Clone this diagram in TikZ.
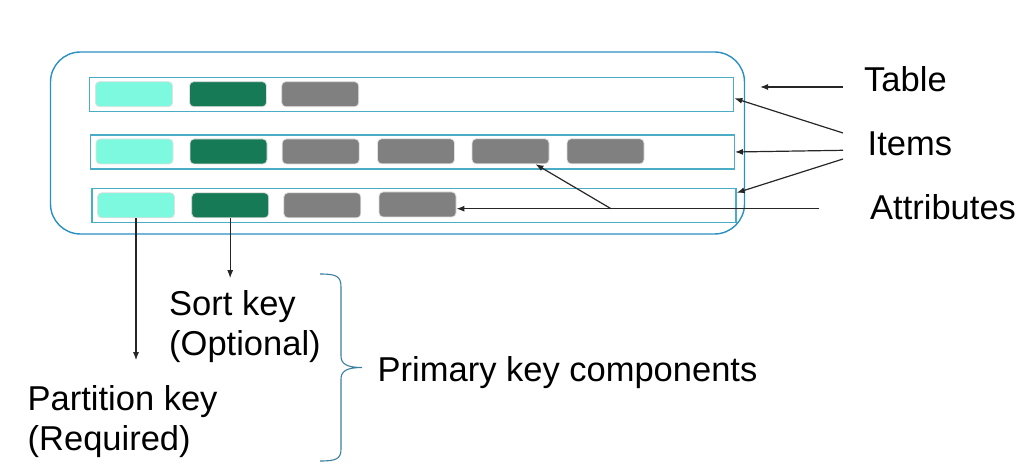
\documentclass[tikz,border=0pt]{standalone}
\usepackage{fontspec}
\setmainfont{Liberation Sans}
\usepackage{xcolor}
\usetikzlibrary{positioning, arrows.meta, calc}

\definecolor{pkcyan}{HTML}{7CF9DE}
\definecolor{skgreen}{HTML}{177A56}
\definecolor{attrgray}{HTML}{808080}
\definecolor{rowblue}{HTML}{4BACC6}
\definecolor{tblblue}{HTML}{2A8FC1}
\definecolor{braceblue}{HTML}{3A7FA0}

\begin{document}
\begin{tikzpicture}[x=1pt, y=-1pt,
		cell/.style={rectangle, rounded corners=4pt, draw=black!12, line width=0.8pt, minimum width=77pt, minimum height=25pt, inner sep=0pt},
		pk/.style={cell, fill=pkcyan},
		sk/.style={cell, fill=skgreen},
		attr/.style={cell, fill=attrgray},
		item/.style={rectangle, draw=rowblue, line width=1.4pt, minimum width=644pt, minimum height=34pt, inner sep=0pt},
		lbl/.style={inner sep=0pt, font=\fontsize{34.5}{40}\selectfont},
		arr/.style={-{Latex[length=8pt, width=6pt]}, line width=1.2pt, black!85}]
			\useasboundingbox (0,0) rectangle (1024,470);
			
			% table and items
			\node[rectangle, rounded corners=30pt, draw=tblblue, line width=1.4pt, minimum width=694pt, minimum height=182pt] (tbl) at (397.5,143) {};
			\node[item] (row1) at (411.7,94.7) {};
			\node[item] (row2) at (412.2,152) {};
			\node[item] (row3) at (413.9,205.5) {};
			
			% attributes
			\node[pk] (c11) at (134,94.2) {};
			\node[sk] (c12) at (228,94.2) {};
			\node[attr] (c13) at (320.2,94.2) {};
			
			\node[pk] (c21) at (134.5,151.5) {};
			\node[sk] (c22) at (228.5,151.5) {};
			\node[attr] (c23) at (320.7,151.5) {};
			\node[attr] (c24) at (416,151.3) {};
			\node[attr] (c25) at (510.5,151.3) {};
			\node[attr] (c26) at (605.5,151.3) {};
			
			\node[pk] (c31) at (136,205.3) {};
			\node[sk] (c32) at (230.2,205.3) {};
			\node[attr] (c33) at (322.3,205.3) {};
			\node[attr] (c34) at (417.5,204.5) {};
			
			% labels
			\node[lbl, anchor=base west] (tablelbl) at (864,91.5) {Table};
			\node[lbl, anchor=base west] (itemslbl) at (867.5,156) {Items};
			\node[lbl, anchor=base west] (attrlbl) at (870,219) {Attributes};
			\node[lbl, anchor=north west, align=left] (sortlbl) at (169,290) {Sort key\\(Optional)};
			\node[lbl, anchor=north west, align=left] (partlbl) at (27.5,385) {Partition key\\(Required)};
			\node[lbl, anchor=base west] (primlbl) at (377.5,381) {Primary key components};
			
			\coordinate (tablefrom) at (843,87);
			\coordinate (tableto) at (760,87);
			\coordinate (itemsfrom1) at (843,133);
			\coordinate (itemsfrom2) at (843,150.3);
			\coordinate (itemsfrom3) at (843,159);
			\coordinate (attrfrom) at (819,208.7);
			\coordinate (attrjoin) at (611,208.7);
			
			\draw[arr] (tablefrom) -- (tableto);
			\draw[arr] (itemsfrom1) -- ([yshift=-3.6pt]row1.east);
			\draw[arr] (itemsfrom2) -- (row2.east);
			\draw[arr] (itemsfrom3) -- ([yshift=-5pt]row3.north east);
			\draw[arr] (attrfrom) -- ([yshift=-4.2pt]c34.east);
			\draw[arr] (attrjoin) -- ([xshift=25pt]c25.south);
			\draw[arr] (c31.south) -- ++(0,142);
			\draw[arr] (c32.south) -- ++(0,60);
			
			% brace
			\coordinate (bracetip) at (362,367.5);
			\draw[braceblue, line width=1.1pt] (320,274) .. controls (336,274) and (341,276) .. (341,287) -- (341,356) .. controls (341,364) and (347,367.5) .. (bracetip) .. controls (347,367.5) and (341,371) .. (341,379) -- (341,449) .. controls (341,459) and (336,461) .. (320,461);
			
		\end{tikzpicture}
\end{document}
